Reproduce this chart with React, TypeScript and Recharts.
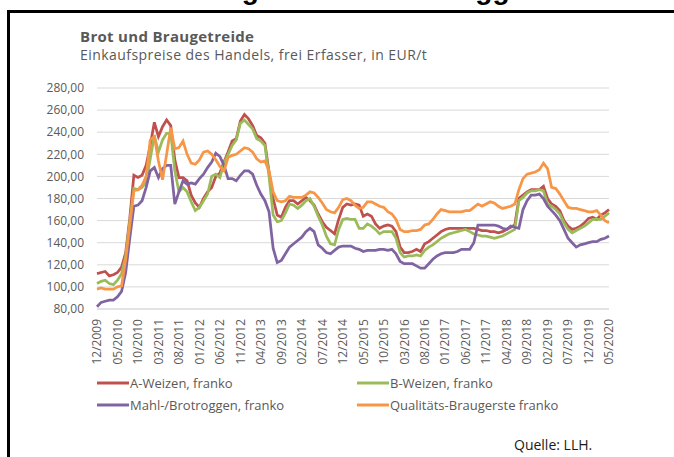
import React from 'react';
import { LineChart, Line, XAxis, YAxis, CartesianGrid, Legend } from 'recharts';

const FONT = '"Open Sans", "Noto Sans", sans-serif';
const GREY = '#595959';

// categories: monthly, 12/2009 .. 05/2020
const START_MONTH = 12;
const START_YEAR = 2009;
const MONTH_COUNT = 126;
const months: string[] = [];
for (let i = 0; i < MONTH_COUNT; i++) {
  const k = START_MONTH - 1 + i;
  const m = (k % 12) + 1;
  const y = START_YEAR + Math.floor(k / 12);
  months.push(`${String(m).padStart(2, '0')}/${y}`);
}

const yTicks = [80, 100, 120, 140, 160, 180, 200, 220, 240, 260, 280];

const seriesNames = [
  'A-Weizen, franko',
  'B-Weizen, franko',
  'Mahl-/Brotroggen, franko',
  'Qualitäts-Braugerste franko',
];
const seriesColors = ['#C0504D', '#9BBB59', '#8064A2', '#F79646'];

const aWeizen = [
  112, 113, 114, 110, 111, 113, 118, 131, 162, 201,
  199, 201, 210, 228, 249, 236, 245, 251, 246, 215,
  199, 199, 196, 183, 176, 172, 180, 186, 190, 200,
  203, 213, 222, 232, 234, 250, 256, 252, 246, 237,
  235, 230, 204, 180, 165, 163, 172, 178, 178, 175,
  178, 181, 178, 174, 166, 159, 154, 151, 148, 161,
  172, 175, 174, 175, 174, 164, 166, 164, 157, 153,
  155, 156, 155, 150, 136, 131, 131, 132, 134, 132,
  139, 141, 144, 147, 150, 152, 153, 153, 153, 153,
  153, 153, 153, 152, 151, 151, 150, 150, 149, 150,
  152, 154, 156, 180, 183, 186, 188, 188, 188, 191,
  180, 175, 173, 169, 160, 155, 152, 153, 155, 158,
  162, 163, 161, 165, 167, 170,
];

const bWeizen = [
  103, 105, 106, 103, 102, 106, 112, 128, 159, 189,
  188, 190, 195, 216, 237, 222, 233, 239, 239, 205,
  186, 190, 186, 177, 169, 172, 178, 184, 200, 202,
  199, 212, 220, 228, 233, 248, 251, 247, 243, 234,
  232, 228, 200, 165, 159, 160, 167, 175, 174, 171,
  174, 178, 180, 173, 164, 156, 146, 139, 138, 152,
  161, 162, 161, 161, 153, 153, 157, 155, 152, 148,
  150, 150, 150, 144, 131, 127, 128, 128, 129, 128,
  133, 136, 138, 141, 144, 146, 148, 149, 150, 151,
  152, 150, 148, 147, 146, 146, 145, 144, 145, 146,
  148, 150, 152, 178, 181, 185, 187, 187, 188, 187,
  175, 173, 170, 166, 158, 152, 149, 151, 153, 155,
  158, 161, 161, 161, 164, 167,
];

const roggen = [
  82, 86, 87, 88, 88, 91, 96, 113, 144, 173,
  174, 178, 190, 205, 208, 199, 207, 210, 210, 175,
  186, 196, 193, 194, 193, 198, 202, 208, 213, 221,
  218, 210, 198, 198, 196, 201, 205, 205, 202, 192,
  184, 178, 168, 135, 122, 124, 130, 136, 139, 142,
  145, 150, 153, 150, 138, 135, 131, 130, 133, 136,
  137, 137, 137, 135, 134, 132, 133, 133, 133, 134,
  134, 133, 134, 130, 123, 121, 121, 121, 119, 117,
  117, 121, 125, 128, 130, 131, 131, 131, 132, 134,
  134, 134, 140, 156, 156, 156, 156, 156, 155, 153,
  152, 155, 154, 153, 170, 178, 183, 183, 184, 180,
  173, 169, 165, 160, 152, 144, 140, 136, 138, 139,
  140, 141, 141, 143, 144, 146,
];

const braugerste = [
  98, 99, 98, 98, 98, 100, 101, 125, 156, 187,
  188, 192, 200, 233, 236, 214, 197, 220, 244, 225,
  226, 232, 220, 212, 211, 215, 222, 223, 220, 215,
  209, 205, 217, 219, 220, 223, 226, 225, 222, 216,
  213, 214, 205, 186, 178, 177, 178, 182, 181, 181,
  181, 183, 186, 185, 181, 176, 170, 168, 167, 172,
  179, 180, 178, 174, 171, 172, 177, 177, 175, 173,
  172, 168, 166, 161, 152, 150, 150, 151, 151, 152,
  156, 157, 161, 166, 170, 169, 168, 168, 168, 168,
  169, 169, 172, 175, 173, 175, 177, 176, 173, 171,
  172, 173, 175, 188, 198, 202, 203, 204, 206, 212,
  207, 190, 189, 184, 178, 172, 171, 171, 170, 169,
  168, 168, 169, 165, 160, 158,
];

const seriesKeys = ['a', 'b', 'r', 'g'];

const data = months.map((month, i) => ({
  month,
  a: aWeizen[i],
  b: bWeizen[i],
  r: roggen[i],
  g: braugerste[i],
}));

const fmt = (v: number) => v.toFixed(2).replace('.', ',');

const XTick = (props: any) => {
  const { x, y, payload } = props;
  const ty = y + 2;
  return (
    <text
      x={x}
      y={ty}
      dy="0.36em"
      transform={`rotate(-90 ${x} ${ty})`}
      textAnchor="end"
      fill={GREY}
      fontSize={12}
      fontFamily={FONT}
    >
      {payload.value}
    </text>
  );
};

const legendPos = [
  { left: 97, top: 0 },
  { left: 357, top: 0 },
  { left: 97, top: 22 },
  { left: 357, top: 22 },
];

const renderLegend = () => (
  <div style={{ position: 'relative', width: 674, height: 44 }}>
    {seriesNames.map((name, i) => (
      <div
        key={name}
        style={{
          position: 'absolute',
          left: legendPos[i].left,
          top: legendPos[i].top,
          display: 'flex',
          alignItems: 'center',
          height: 18,
          whiteSpace: 'nowrap',
        }}
      >
        <svg width={32} height={6} style={{ display: 'block' }}>
          <line x1={0} y1={3} x2={32} y2={3} stroke={seriesColors[i]} strokeWidth={3} />
        </svg>
        <span style={{ marginLeft: 1, fontFamily: FONT, fontSize: 13, color: GREY }}>{name}</span>
      </div>
    ))}
  </div>
);

export default function App() {
  return (
    <div style={{ position: 'absolute', left: 0, top: 0, width: 674, height: 457, overflow: 'hidden', background: '#fff' }}>
      <svg width={674} height={20} style={{ position: 'absolute', left: 0, top: 0 }}>
        <text x={94} y={-1.5} fontFamily='"Liberation Sans", Arial, sans-serif' fontWeight="bold" fontSize={28} fill="#000">
          Entwicklung Weizen und
        </text>
        <text x={438} y={-1.5} fontFamily='"Liberation Sans", Arial, sans-serif' fontWeight="bold" fontSize={28} fill="#000">
          Roggen
        </text>
      </svg>
      <div
        style={{
          position: 'absolute',
          left: 7,
          top: 10,
          width: 667,
          height: 447,
          borderTop: '3px solid #000',
          borderLeft: '3px solid #000',
          boxSizing: 'border-box',
        }}
      />
      <div style={{ position: 'absolute', left: 80, top: 26, fontFamily: FONT, fontWeight: 700, fontSize: 15, letterSpacing: 0.3, color: GREY, whiteSpace: 'nowrap' }}>
        Brot und Braugetreide
      </div>
      <div style={{ position: 'absolute', left: 80, top: 45, fontFamily: FONT, fontSize: 14, letterSpacing: 0.45, color: GREY, whiteSpace: 'nowrap' }}>
        Einkaufspreise des Handels, frei Erfasser, in EUR/t
      </div>
      <div style={{ position: 'absolute', left: 0, top: 0 }}>
        <LineChart width={674} height={457} data={data} margin={{ top: 88, right: 65, bottom: 88, left: 0 }}>
          <CartesianGrid vertical={false} stroke="#D9D9D9" />
          <YAxis
            width={97}
            domain={[80, 280]}
            ticks={yTicks}
            tickFormatter={fmt}
            axisLine={false}
            tickLine={false}
            tickSize={0}
            tickMargin={13}
            interval={0}
            tick={{ fill: GREY, fontSize: 12, fontFamily: FONT }}
          />
          <XAxis
            dataKey="month"
            height={60}
            interval={4}
            axisLine={{ stroke: '#D9D9D9' }}
            tickLine={false}
            tick={<XTick />}
          />
          {seriesKeys.map((k, i) => (
            <Line
              key={k}
              type="linear"
              dataKey={k}
              name={seriesNames[i]}
              stroke={seriesColors[i]}
              strokeWidth={2.75}
              dot={false}
              isAnimationActive={false}
            />
          ))}
          <Legend
            layout="vertical"
            align="center"
            verticalAlign="middle"
            content={renderLegend}
            wrapperStyle={{ position: 'absolute', left: 0, top: 374, width: 674, height: 44 }}
          />
        </LineChart>
      </div>
      <div style={{ position: 'absolute', left: 514, top: 435, fontFamily: FONT, fontSize: 14, color: '#1a1a1a', whiteSpace: 'nowrap' }}>
        Quelle: LLH.
      </div>
    </div>
  );
}
